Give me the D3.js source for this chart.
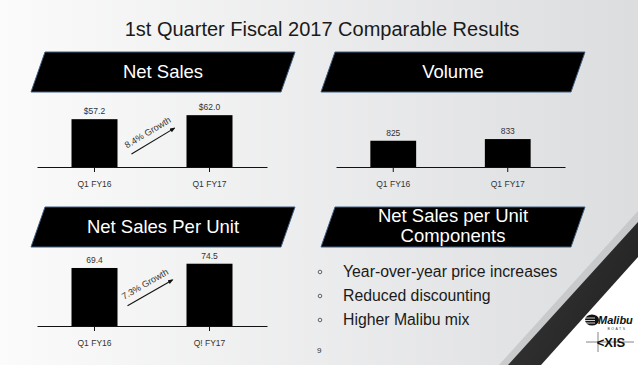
<!DOCTYPE html>
<html>
<head>
<meta charset="utf-8">
<script src="https://cdn.jsdelivr.net/npm/d3@7"></script>
<style>
  body { margin: 0; }
  svg { display: block; font-family: "Liberation Sans", Arial, sans-serif; }
</style>
</head>
<body>
<div id="slide"></div>
<script>
// chart values
const periods = ["Q1 FY16", "Q1 FY17"];
const periodsPerUnit = ["Q1 FY16", "Q! FY17"];
const netSales = [57.2, 62.0];
const netSalesLabels = ["$57.2", "$62.0"];
const volume = [825, 833];
const volumeLabels = ["825", "833"];
const netSalesPerUnit = [69.4, 74.5];
const netSalesPerUnitLabels = ["69.4", "74.5"];
const growthLabels = ["8.4% Growth", "7.3% Growth"];
const components = ["Year-over-year price increases", "Reduced discounting", "Higher Malibu mix"];

const width = 638, height = 365;

var svg = d3.select("#slide").append("svg").attr("width", width).attr("height", height);

// background
var defs = svg.append("defs");
var bg = defs.append("linearGradient").attr("id", "bg").attr("x1", "0").attr("x2", "1").attr("y1", "0").attr("y2", "0");
bg.append("stop").attr("offset", "0").attr("stop-color", "#fbfbfb");
bg.append("stop").attr("offset", "1").attr("stop-color", "#dcdddf");
var sg = defs.append("linearGradient").attr("id", "stripe").attr("x1", "0").attr("x2", "1").attr("y1", "0").attr("y2", "0.6");
sg.append("stop").attr("offset", "0").attr("stop-color", "#3a3a3a");
sg.append("stop").attr("offset", "1").attr("stop-color", "#222");
defs.append("marker").attr("id", "arrow").attr("viewBox", "0 0 10 10").attr("refX", 8).attr("refY", 5)
    .attr("markerWidth", 5).attr("markerHeight", 5).attr("orient", "auto")
    .append("path").attr("d", "M0,1 L10,5 L0,9 Z").attr("fill", "#111");

svg.append("rect").attr("width", width).attr("height", height).attr("fill", "url(#bg)");

// diagonal stripe, lower right
svg.append("path").attr("d", "M638,211 L499,365 L638,365 Z").attr("fill", "#b9babc").attr("opacity", 0.6);
svg.append("path").attr("d", "M638,222 L508,365 L638,365 Z").attr("fill", "url(#stripe)");
svg.append("path").attr("d", "M638,257 L541,365 L638,365 Z").attr("fill", "#ffffff");

// title
svg.append("text").attr("x", 322).attr("y", 36).attr("text-anchor", "middle")
    .attr("font-size", 20).attr("fill", "#1a1a1a").text("1st Quarter Fiscal 2017 Comparable Results");

function banner(x0, x1, y0, y1, lines, baselines) {
    var s = 14;
    svg.append("polygon")
        .attr("points", [[x0 + s, y0], [x1, y0], [x1 - s, y1], [x0, y1]].map(function (p) { return p.join(","); }).join(" "))
        .attr("fill", "#000").attr("stroke", "#3f5f82").attr("stroke-width", 1);
    lines.forEach(function (t, i) {
        svg.append("text").attr("x", (x0 + x1) / 2).attr("y", baselines[i]).attr("text-anchor", "middle")
            .attr("font-size", 18.5).attr("fill", "#fff").text(t);
    });
}

banner(31, 295, 52, 92, ["Net Sales"], [78]);
banner(321, 585, 52, 92, ["Volume"], [78]);
banner(31, 295, 207, 247, ["Net Sales Per Unit"], [233]);
banner(321, 585, 207, 247, ["Net Sales per Unit", "Components"], [222, 242]);

function barChart(left, right, base, cats, values, labels, y, growth) {
    var g = svg.append("g");
    var x = d3.scaleBand().domain(cats).range([left, right]).paddingInner(0.6).paddingOuter(0.3);

    var axis = g.append("g").attr("transform", "translate(0," + base + ")")
        .call(d3.axisBottom(x).tickSize(5).tickSizeOuter(0).tickPadding(9));
    axis.select(".domain").attr("stroke", "#111").attr("stroke-width", 1.2);
    axis.selectAll(".tick line").attr("stroke", "#111");
    axis.selectAll("text").attr("font-size", 8.5).attr("fill", "#333").attr("font-family", "Liberation Sans, Arial, sans-serif");

    g.selectAll("rect").data(values).enter().append("rect")
        .attr("x", function (d, i) { return x(cats[i]); })
        .attr("y", function (d) { return y(d); })
        .attr("width", x.bandwidth())
        .attr("height", function (d) { return base - y(d); })
        .attr("fill", "#000");

    g.selectAll(".val").data(values).enter().append("text").attr("class", "val")
        .attr("x", function (d, i) { return x(cats[i]) + x.bandwidth() / 2; })
        .attr("y", function (d) { return y(d) - 5; })
        .attr("text-anchor", "middle").attr("font-size", 8.5).attr("fill", "#333")
        .text(function (d, i) { return labels[i]; });

    if (growth) {
        var xs = x(cats[0]) + x.bandwidth() + growth.dx0;
        var xe = x(cats[1]) - growth.dx1;
        var ys = y(values[0] * growth.f0);
        var ye = y(values[1] * growth.f1);
        g.append("line").attr("x1", xs).attr("y1", ys).attr("x2", xe).attr("y2", ye)
            .attr("stroke", "#111").attr("stroke-width", 1.1).attr("marker-end", "url(#arrow)");
        var ang = Math.atan2(ye - ys, xe - xs);
        var mx = (xs + xe) / 2 + Math.sin(ang) * 7, my = (ys + ye) / 2 - Math.cos(ang) * 7;
        g.append("text").attr("transform", "translate(" + mx + "," + my + ") rotate(" + (ang * 180 / Math.PI) + ")")
            .attr("text-anchor", "middle").attr("font-size", 9).attr("fill", "#333").text(growth.text);
    }
}

var ySales = d3.scaleLinear().domain([0, 100]).range([167, 83.4]);
barChart(37, 267, 167, periods, netSales, netSalesLabels, ySales,
    { text: growthLabels[0], dx0: 14, dx1: 12, f0: 0.27, f1: 0.75 });

var yVolume = d3.scaleLinear().domain([700, 900]).range([167, 125]);
barChart(336, 565, 167, periods, volume, volumeLabels, yVolume, null);

var yUnit = d3.scaleLinear().domain([0, 100]).range([326, 242.4]);
barChart(37, 267, 326, periodsPerUnit, netSalesPerUnit, netSalesPerUnitLabels, yUnit,
    { text: growthLabels[1], dx0: 10, dx1: 14, f0: 0.35, f1: 0.74 });

// bullets
var by = d3.scalePoint().domain(components).range([277, 325]);
components.forEach(function (c) {
    svg.append("circle").attr("cx", 320).attr("cy", by(c) - 5).attr("r", 1.8)
        .attr("fill", "none").attr("stroke", "#555").attr("stroke-width", 0.9);
    svg.append("text").attr("x", 343).attr("y", by(c)).attr("font-size", 15.8).attr("fill", "#1a1a1a").text(c);
});

svg.append("text").attr("x", 317).attr("y", 353).attr("font-size", 8).attr("fill", "#333").text("9");

// logos
var malibu = svg.append("g");
malibu.append("ellipse").attr("cx", 592).attr("cy", 320).attr("rx", 7).attr("ry", 5.5).attr("fill", "#111");
[318, 320.5, 323].forEach(function (ly) {
    malibu.append("line").attr("x1", 584).attr("x2", 595).attr("y1", ly).attr("y2", ly)
        .attr("stroke", "#fff").attr("stroke-width", 0.8);
});
malibu.append("text").attr("x", 598).attr("y", 324).attr("font-size", 11).attr("font-weight", "bold")
    .attr("font-style", "italic").attr("fill", "#111").text("Malibu");
malibu.append("text").attr("x", 617).attr("y", 330).attr("text-anchor", "middle").attr("font-size", 3.5)
    .attr("letter-spacing", 1.5).attr("fill", "#444").text("BOATS");
var axisLogo = svg.append("g");
axisLogo.append("line").attr("x1", 586).attr("x2", 634).attr("y1", 342).attr("y2", 342).attr("stroke", "#333").attr("stroke-width", 0.6);
axisLogo.append("line").attr("x1", 598).attr("x2", 598).attr("y1", 332).attr("y2", 352).attr("stroke", "#333").attr("stroke-width", 0.6);
axisLogo.append("text").attr("x", 611).attr("y", 347).attr("text-anchor", "middle").attr("font-size", 13)
    .attr("font-weight", "bold").attr("fill", "#111").text("<XIS");
</script>
</body>
</html>
